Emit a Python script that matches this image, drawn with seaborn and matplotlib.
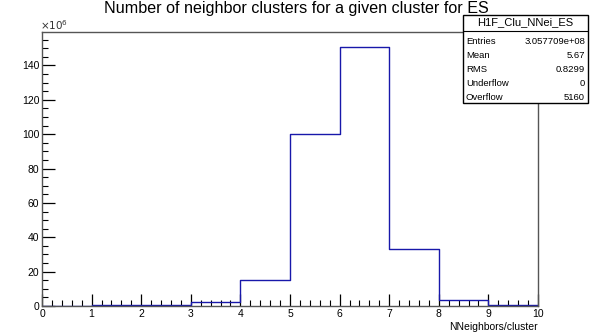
import matplotlib
matplotlib.use("Agg")
import matplotlib.pyplot as plt
import seaborn as sns
import pandas as pd
import numpy as np
from matplotlib.ticker import AutoMinorLocator

# Data (in units of 1e6)
bin_edges = [0, 1, 2, 3, 4, 5, 6, 7, 8, 9, 10]
bin_values = [0.1, 0.5, 0.5, 2.2, 15.2, 100.0, 150.5, 33.2, 3.5, 0.6]
x_ticks = [0, 1, 2, 3, 4, 5, 6, 7, 8, 9, 10]
y_ticks = [0, 20, 40, 60, 80, 100, 120, 140]
title = "Number of neighbor clusters for a given cluster for ES"
xlabel = "NNeighbors/cluster"
stats_name = "H1F_Clu_NNei_ES"
stats_labels = ["Entries", "Mean", "RMS", "Underflow", "Overflow"]
stats_values = ["3.057709e+08", "5.67", "0.8299", "0", "5160"]

sns.set_style("ticks")
plt.rcParams['font.family'] = ['Liberation Sans', 'DejaVu Sans']
plt.rcParams['text.color'] = 'black'
plt.rcParams['xtick.color'] = 'black'
plt.rcParams['ytick.color'] = 'black'
plt.rcParams['axes.labelcolor'] = 'black'

fig = plt.figure(figsize=(5.9, 3.35), dpi=100)
ax = fig.add_axes([42/590, 29/335, (538-42)/590, (306-32)/335])

centers = [(bin_edges[i] + bin_edges[i+1]) / 2 for i in range(len(bin_values))]
df = pd.DataFrame({"x": centers, "w": bin_values})
sns.histplot(data=df, x="x", weights="w", bins=bin_edges, element="step",
             fill=False, color="#1818aa", linewidth=1.0, ax=ax)

ax.set_xlim(0, 10)
ax.set_ylim(0, 159.5)
ax.set_xticks(x_ticks)
ax.set_xticklabels([str(t) for t in x_ticks])
ax.set_yticks(y_ticks)
ax.set_yticklabels([str(t) for t in y_ticks])
ax.xaxis.set_minor_locator(AutoMinorLocator(5))
ax.yaxis.set_minor_locator(AutoMinorLocator(4))
ax.tick_params(axis='both', which='major', direction='in', length=9, width=0.9,
               labelsize=7.5, top=False, right=False)
ax.tick_params(axis='both', which='minor', direction='in', length=4.5, width=0.8,
               top=False, right=False)
ax.tick_params(axis='x', pad=2)
ax.tick_params(axis='y', pad=2)
for s in ax.spines.values():
    s.set_color('#555555')
    s.set_linewidth(1.0)
ax.set_xlabel("")
ax.set_ylabel("")

fig.text(538/590, 1 - 327/335, xlabel, ha='right', va='center', fontsize=7.5)
fig.text(40/590, 1 - 32/335, r"$\times10^{6}$", ha='left', va='bottom', fontsize=7.5,
         color='#333333')
fig.text(296/590, 1 - 8/335, title, ha='center', va='center', fontsize=11.6)

# Stats box
bx0, bx1, by0, by1 = 463/590, 588/590, 1 - 103/335, 1 - 15/335
box = plt.Rectangle((bx0, by0), bx1 - bx0, by1 - by0, transform=fig.transFigure,
                    fill=True, facecolor='white', edgecolor='black', linewidth=1.0)
fig.add_artist(box)
sep_y = 1 - 30.5/335
fig.add_artist(plt.Line2D([bx0, bx1], [sep_y, sep_y], transform=fig.transFigure,
                          color='black', linewidth=0.8))
fig.text((bx0 + bx1) / 2, 1 - 22.5/335, stats_name, ha='center', va='center', fontsize=8)
row_y = [42, 56, 70, 84, 97]
for lab, val, ry in zip(stats_labels, stats_values, row_y):
    fig.text(466/590, 1 - ry/335, lab, ha='left', va='center', fontsize=6.8)
    fig.text(585/590, 1 - ry/335, val, ha='right', va='center', fontsize=6.8)

fig.savefig("out.png", dpi=100)
